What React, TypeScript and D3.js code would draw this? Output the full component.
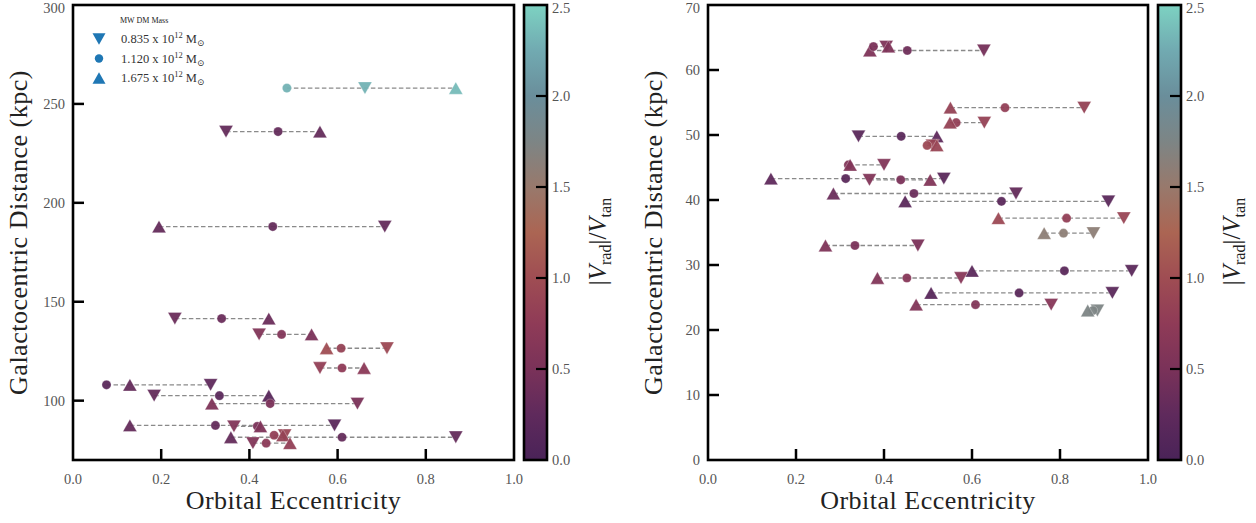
import React from "react";
import * as d3 from "d3";

// ---------- DATA ----------
// Left panel (MW satellites, far)
const leftDist = [258, 236, 188, 141.5, 133.5, 126.5, 116.5, 108, 102.5, 98.5, 87.5, 87, 81.5, 82.5, 78.5];
const leftEccLow = [0.662, 0.347, 0.707, 0.231, 0.422, 0.712, 0.56, 0.312, 0.184, 0.645, 0.593, 0.365, 0.868, 0.48, 0.408];
const leftEccMid = [0.485, 0.465, 0.453, 0.337, 0.473, 0.608, 0.61, 0.076, 0.332, 0.447, 0.323, 0.418, 0.61, 0.456, 0.438];
const leftEccHigh = [0.868, 0.56, 0.195, 0.444, 0.541, 0.575, 0.66, 0.129, 0.444, 0.315, 0.129, 0.425, 0.358, 0.476, 0.492];
const leftRatioLow = [2.3, 0.3, 0.3, 0.35, 0.6, 0.95, 0.8, 0.25, 0.3, 0.5, 0.2, 0.6, 0.3, 0.9, 0.6];
const leftRatioMid = [2.3, 0.3, 0.3, 0.35, 0.6, 0.85, 0.75, 0.2, 0.2, 0.5, 0.3, 0.5, 0.3, 0.8, 0.7];
const leftRatioHigh = [2.35, 0.3, 0.3, 0.35, 0.5, 1.0, 0.7, 0.3, 0.15, 0.55, 0.3, 0.55, 0.3, 0.85, 0.8];

// Right panel (near)
const rightDist = [63, 63.6, 54.2, 51.9, 49.8, 48.4, 45.4, 43.3, 43.1, 41.0, 39.8, 37.2, 34.9, 33.0, 29.1, 28.0, 25.7, 23.9, 23.0];
const rightEccLow = [0.627, 0.405, 0.855, 0.628, 0.342, 0.51, 0.4, 0.536, 0.367, 0.7, 0.91, 0.945, 0.876, 0.477, 0.963, 0.575, 0.919, 0.78, 0.885];
const rightEccMid = [0.453, 0.376, 0.675, 0.564, 0.439, 0.498, 0.319, 0.313, 0.438, 0.468, 0.667, 0.815, 0.808, 0.334, 0.81, 0.452, 0.707, 0.608, 0.875];
const rightEccHigh = [0.368, 0.41, 0.551, 0.55, 0.52, 0.52, 0.323, 0.143, 0.505, 0.285, 0.448, 0.66, 0.764, 0.267, 0.6, 0.385, 0.507, 0.473, 0.863];
const rightRatioLow = [0.45, 0.55, 0.85, 0.85, 0.2, 0.9, 0.6, 0.2, 0.6, 0.3, 0.2, 0.9, 1.6, 0.5, 0.2, 0.65, 0.2, 0.65, 1.75];
const rightRatioMid = [0.4, 0.5, 0.8, 0.8, 0.2, 0.95, 0.6, 0.2, 0.5, 0.35, 0.2, 0.8, 1.6, 0.5, 0.2, 0.65, 0.2, 0.6, 1.75];
const rightRatioHigh = [0.55, 0.55, 0.85, 0.85, 0.25, 0.9, 0.6, 0.25, 0.6, 0.35, 0.2, 0.95, 1.6, 0.55, 0.2, 0.6, 0.15, 0.6, 1.75];

const xTicks = [0, 0.2, 0.4, 0.6, 0.8, 1.0];
const leftYTicks = [100, 150, 200, 250, 300];
const rightYTicks = [0, 10, 20, 30, 40, 50, 60, 70];
const cbTicks = [0, 0.5, 1.0, 1.5, 2.0, 2.5];
const legendLabels = ["0.835", "1.120", "1.675"];

// colormap stops (value -> colour)
const cmapVals = [0, 0.25, 0.5, 0.75, 1.0, 1.25, 1.5, 1.75, 2.0, 2.25, 2.5];
const cmapCols = ["#4a2358", "#5f2a5c", "#7a3259", "#8f3b57", "#9f4d53", "#ab6553", "#98796c", "#7d8585", "#6a8e9b", "#71aab1", "#7dd2c2"];

const cmap = d3.scaleLinear<string>().domain(cmapVals).range(cmapCols).clamp(true);

const FONT = "'Liberation Serif', 'DejaVu Serif', serif";

type PanelProps = {
  x0: number; x1: number; y0: number; y1: number;
  yDomain: [number, number]; yTicks: number[];
  dist: number[]; low: number[]; mid: number[]; high: number[];
  rLow: number[]; rMid: number[]; rHigh: number[];
  cbX: number; legend?: boolean; id: string;
};

const triPath = (cx: number, cy: number, s: number, up: boolean) => {
  const h = s * 0.88;
  if (up) return `M${cx},${cy - h / 2}L${cx + s / 2},${cy + h / 2}L${cx - s / 2},${cy + h / 2}Z`;
  return `M${cx},${cy + h / 2}L${cx + s / 2},${cy - h / 2}L${cx - s / 2},${cy - h / 2}Z`;
};

function Panel(p: PanelProps) {
  const xs = d3.scaleLinear().domain([0, 1]).range([p.x0, p.x1]);
  const ys = d3.scaleLinear().domain(p.yDomain).range([p.y1, p.y0]);
  const cbs = d3.scaleLinear().domain([0, 2.5]).range([p.y1, p.y0]);
  const cbW = 23;
  const TS = 14.5;
  const gradId = "grad" + p.id;
  const labY = (y: number) => Math.max(y + 5, 13);
  return (
    <g>
      <defs>
        <linearGradient id={gradId} x1="0" y1="1" x2="0" y2="0">
          {cmapVals.map((v, i) => (
            <stop key={i} offset={v / 2.5} stopColor={cmapCols[i]} />
          ))}
        </linearGradient>
      </defs>
      {/* dashed connectors */}
      {p.dist.map((d, i) => {
        const a = Math.min(p.low[i], p.mid[i], p.high[i]);
        const b = Math.max(p.low[i], p.mid[i], p.high[i]);
        return (
          <line key={"l" + i} x1={xs(a)} x2={xs(b)} y1={ys(d)} y2={ys(d)}
            stroke="#8a8a8a" strokeWidth={1.3} strokeDasharray="4.5,2.5" />
        );
      })}
      {/* markers */}
      {p.dist.map((d, i) => (
        <g key={"m" + i}>
          <path d={triPath(xs(p.low[i]), ys(d), 14, false)} fill={cmap(p.rLow[i])} fillOpacity={0.95} stroke="#fff" strokeOpacity={0.5} strokeWidth={0.6} />
          <circle cx={xs(p.mid[i])} cy={ys(d)} r={4.6} fill={cmap(p.rMid[i])} fillOpacity={0.95} stroke="#fff" strokeOpacity={0.5} strokeWidth={0.6} />
          <path d={triPath(xs(p.high[i]), ys(d), 14, true)} fill={cmap(p.rHigh[i])} fillOpacity={0.95} stroke="#fff" strokeOpacity={0.5} strokeWidth={0.6} />
        </g>
      ))}
      {/* x ticks */}
      {xTicks.map((t) => (
        <g key={"xt" + t}>
          {t > 0 && t < 1 && (
            <line x1={xs(t)} x2={xs(t)} y1={p.y1} y2={p.y1 - 11} stroke="#000" strokeWidth={2.5} />
          )}
          <text x={xs(t)} y={p.y1 + 24} textAnchor="middle" fontFamily={FONT} fontSize={TS} fill="#555">
            {t.toFixed(1)}
          </text>
        </g>
      ))}
      {/* y ticks */}
      {p.yTicks.map((t) => (
        <g key={"yt" + t}>
          {ys(t) > p.y0 + 1 && ys(t) < p.y1 - 1 && (
            <line x1={p.x0} x2={p.x0 + 11} y1={ys(t)} y2={ys(t)} stroke="#000" strokeWidth={2.5} />
          )}
          <text x={p.x0 - 8} y={labY(ys(t))} textAnchor="end" fontFamily={FONT} fontSize={TS} fill="#555">
            {t}
          </text>
        </g>
      ))}
      {/* frame */}
      <rect x={p.x0} y={p.y0} width={p.x1 - p.x0} height={p.y1 - p.y0} fill="none" stroke="#000" strokeWidth={2.6} />
      {/* axis labels */}
      <text x={(p.x0 + p.x1) / 2} y={p.y1 + 49} textAnchor="middle" fontFamily={FONT} fontSize={26} letterSpacing={0.5} fill="#222">
        Orbital Eccentricity
      </text>
      <text transform={`translate(${p.x0 - 46},${(p.y0 + p.y1) / 2}) rotate(-90)`} textAnchor="middle" fontFamily={FONT} fontSize={26} letterSpacing={0.5} fill="#222">
        Galactocentric Distance (kpc)
      </text>
      {/* colorbar */}
      <rect x={p.cbX} y={p.y0} width={cbW} height={p.y1 - p.y0} fill={`url(#${gradId})`} stroke="#000" strokeWidth={2.6} />
      {cbTicks.map((t) => (
        <g key={"ct" + t}>
          {t > 0 && t < 2.5 && (
            <line x1={p.cbX + cbW - 11} x2={p.cbX + cbW} y1={cbs(t)} y2={cbs(t)} stroke="#000" strokeWidth={2.2} />
          )}
          <text x={p.cbX + cbW + 5} y={labY(cbs(t))} fontFamily={FONT} fontSize={TS} fill="#555">
            {t.toFixed(1)}
          </text>
        </g>
      ))}
      <text transform={`translate(${p.cbX + 82},${cbs(1.2)}) rotate(-90)`} textAnchor="middle" fontFamily={FONT} fontSize={25} fill="#222">
        |<tspan fontStyle="italic">V</tspan>
        <tspan fontSize={16} dy={5}>rad</tspan>
        <tspan dy={-5}>|/</tspan>
        <tspan fontStyle="italic">V</tspan>
        <tspan fontSize={16} dy={5}>tan</tspan>
      </text>
      {p.legend && (
        <g fontFamily={FONT}>
          <text x={p.x0 + 47} y={p.y0 + 18} fontSize={8} fill="#222">MW DM Mass</text>
          {legendLabels.map((lab, i) => {
            const cy = p.y0 + 34 + i * 19.5;
            const mx = p.x0 + 26;
            return (
              <g key={"lg" + i}>
                {i === 0 && <path d={triPath(mx, cy, 13, false)} fill="#1f77b4" />}
                {i === 1 && <circle cx={mx} cy={cy} r={4.2} fill="#1f77b4" />}
                {i === 2 && <path d={triPath(mx, cy, 13, true)} fill="#1f77b4" />}
                <text x={p.x0 + 48} y={cy + 4} fontSize={12.5} fill="#333">
                  {lab} x 10<tspan fontSize={8.5} dy={-5}>12</tspan>
                  <tspan dy={5}> M</tspan>
                  <tspan fontSize={9} dy={3}>⊙</tspan>
                </text>
              </g>
            );
          })}
        </g>
      )}
    </g>
  );
}

export default function App() {
  return (
    <svg width={1256} height={523} style={{ position: "absolute", left: 0, top: 0, background: "#fff" }}>
      <rect width={1256} height={523} fill="#fff" />
      <Panel id="L" x0={73} x1={514} y0={5} y1={460} yDomain={[70, 300]} yTicks={leftYTicks}
        dist={leftDist} low={leftEccLow} mid={leftEccMid} high={leftEccHigh}
        rLow={leftRatioLow} rMid={leftRatioMid} rHigh={leftRatioHigh} cbX={524} legend />
      <Panel id="R" x0={708} x1={1148} y0={5} y1={460} yDomain={[0, 70]} yTicks={rightYTicks}
        dist={rightDist} low={rightEccLow} mid={rightEccMid} high={rightEccHigh}
        rLow={rightRatioLow} rMid={rightRatioMid} rHigh={rightRatioHigh} cbX={1158} />
    </svg>
  );
}
